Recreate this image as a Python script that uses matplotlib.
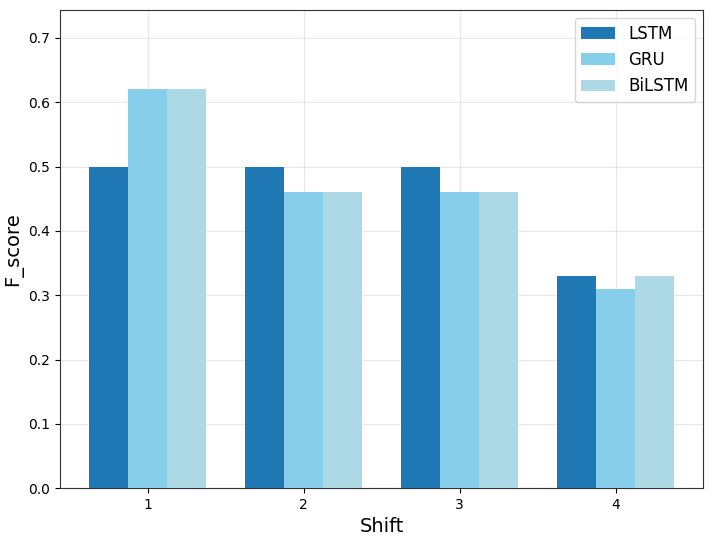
import numpy as np
import matplotlib.pyplot as plt

shifts = [1, 2, 3, 4]
lstm = [0.50, 0.50, 0.50, 0.33]
gru = [0.62, 0.46, 0.46, 0.31]
bilstm = [0.62, 0.46, 0.46, 0.33]

x = np.arange(1, len(shifts) + 1)
w = 0.25

fig, ax = plt.subplots(figsize=(7.14, 5.37), dpi=100)
ax.bar(x - w, lstm, w, label='LSTM', color='#1f77b4', zorder=3)
ax.bar(x, gru, w, label='GRU', color='skyblue', zorder=3)
ax.bar(x + w, bilstm, w, label='BiLSTM', color='lightblue', zorder=3)

ax.set_xticks(x)
ax.set_xticklabels([str(s) for s in shifts])
ax.set_ylim(0, max(gru) * 1.2)
ax.set_xlabel('Shift', fontsize=14)
ax.set_ylabel('F_score', fontsize=14)
ax.grid(True, alpha=0.3, zorder=0)
ax.legend(fontsize=12)
for s in ax.spines.values():
    s.set_color('#333333')

fig.subplots_adjust(left=0.084, right=0.985, top=0.982, bottom=0.091)
fig.savefig('out.png', dpi=100)
